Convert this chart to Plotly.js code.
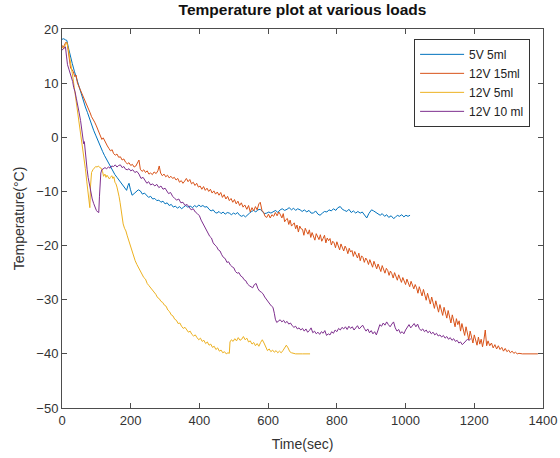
<!DOCTYPE html>
<html>
<head>
<meta charset="utf-8">
<script src="https://cdn.plot.ly/plotly-3.0.1.min.js"></script>
<style>html,body{margin:0;padding:0;background:#fff;}#chart{width:560px;height:458px;}</style>
</head>
<body>
<div id="chart"></div>
<script>
// Series names
const seriesNames = ["5V 5ml", "12V 15ml", "12V 5ml", "12V 10 ml"];

// 5V 5ml
const tBlue = [0,5,10,14,20,24,30,36,43,50,56,62,68,74,80,86,92,98,104,111,118,124,130,136,142,148,154,160,166,172,178,184,188,192,195,199,204,210,216,222,228,234,240,247,252,258,264,270,276,282,288,294,300,306,312,318,324,330,336,342,348,354,360,366,373,380,386,392,398,404,410,416,422,428,434,440,446,451,457,463,469,475,481,487,493,499,505,511,517,523,528,534,540,546,552,558,564,570,577,583,589,596,602,608,616,622,628,635,641,648,655,661,668,674,680,686,693,699,706,712,719,725,732,738,745,751,758,764,771,777,784,790,797,803,810,816,822,829,835,842,848,855,861,868,874,880,887,893,901,907,913,920,926,932,939,945,951,958,965,970,976,982,989,995,1001,1007,1013];
const yBlue = [18.1,18.2,18.0,17.9,16.2,15.0,13.6,12.2,10.7,9.3,8.2,6.8,5.6,4.6,3.4,2.3,1.3,0.4,-0.6,-1.7,-2.6,-3.4,-4.1,-4.9,-5.6,-6.3,-6.9,-7.4,-7.9,-8.4,-8.9,-9.5,-9.8,-8.9,-8.5,-9.6,-10.7,-10.4,-10.0,-9.7,-9.9,-10.5,-10.3,-10.8,-11.1,-10.9,-11.4,-11.3,-11.7,-11.6,-12.0,-11.8,-12.3,-12.1,-12.6,-12.4,-12.9,-12.7,-13.1,-12.8,-13.2,-12.9,-12.6,-12.9,-12.7,-13.0,-12.6,-12.9,-12.5,-12.8,-12.6,-12.9,-12.8,-13.3,-13.6,-13.4,-13.9,-14.0,-13.7,-14.1,-13.8,-14.2,-13.9,-14.0,-14.3,-14.0,-14.2,-13.9,-14.4,-14.6,-14.4,-14.7,-14.3,-14.0,-13.7,-13.5,-13.8,-13.4,-13.3,-13.8,-14.1,-14.0,-13.8,-14.0,-13.7,-13.5,-13.9,-13.4,-13.2,-13.5,-13.3,-13.0,-13.4,-13.1,-13.5,-13.2,-13.4,-13.7,-13.4,-13.8,-13.5,-14.0,-14.0,-13.6,-14.2,-14.4,-14.0,-13.7,-13.8,-13.4,-13.6,-13.2,-13.5,-13.0,-12.8,-13.3,-13.5,-13.7,-13.3,-13.9,-13.6,-14.0,-13.7,-14.0,-13.8,-14.3,-14.9,-14.1,-13.4,-13.6,-13.9,-14.2,-14.4,-14.1,-14.6,-14.3,-14.8,-14.5,-15.0,-14.8,-14.4,-14.6,-14.3,-14.7,-14.4,-14.6,-14.4];

// 12V 15ml
const tOrange = [0,4,8,12,15,19,22,25,29,33,37,41,45,49,53,57,61,65,70,74,78,82,86,90,95,100,104,108,112,116,120,124,128,132,137,141,146,150,155,160,165,170,175,180,185,190,195,200,205,210,215,220,224,228,233,238,243,248,253,258,263,268,274,279,283,287,292,297,302,307,312,317,322,327,332,337,342,347,352,357,362,367,372,377,382,387,392,397,402,407,412,417,422,427,432,437,442,447,452,457,462,467,472,477,482,487,492,497,502,507,512,517,522,527,532,538,543,548,553,558,563,568,573,577,582,587,591,596,601,606,611,616,621,626,631,635,640,644,648,652,656,660,664,668,672,676,680,684,688,692,696,700,704,708,712,716,720,724,728,732,736,740,744,748,752,756,760,764,768,772,776,780,784,788,792,796,800,804,808,812,816,820,824,828,832,836,840,844,848,852,856,860,864,868,872,876,880,884,888,892,896,900,904,908,912,916,920,924,928,932,936,940,944,948,952,956,960,964,968,972,976,980,984,988,992,996,1000,1004,1008,1012,1016,1020,1024,1028,1032,1036,1040,1044,1048,1052,1056,1060,1064,1068,1072,1076,1080,1084,1088,1092,1096,1100,1104,1108,1112,1116,1120,1124,1128,1132,1136,1140,1144,1148,1152,1156,1160,1164,1168,1172,1176,1180,1184,1188,1192,1196,1200,1204,1208,1212,1216,1220,1224,1228,1232,1236,1240,1245,1250,1255,1260,1265,1270,1275,1280,1285,1290,1295,1300,1305,1310,1315,1320,1325,1330,1340,1360,1385];
const yOrange = [17.0,16.6,17.2,17.6,17.4,15.5,14.0,12.8,12.5,12.1,11.2,11.5,10.0,9.4,9.0,8.3,7.8,7.2,6.6,5.9,5.2,4.5,3.8,3.4,2.8,2.1,1.5,0.9,0.2,-0.4,-0.1,-0.6,-1.4,-1.6,-2.1,-2.5,-2.3,-3.0,-3.3,-3.1,-3.7,-3.6,-4.2,-4.0,-4.6,-4.9,-4.7,-5.2,-5.0,-5.5,-5.3,-4.6,-4.2,-5.9,-6.3,-6.0,-6.5,-6.2,-6.8,-6.6,-6.9,-6.4,-6.7,-6.2,-5.3,-6.6,-7.1,-6.8,-7.3,-7.0,-7.5,-7.2,-7.6,-7.4,-7.9,-7.6,-8.3,-8.0,-8.5,-8.1,-7.6,-8.2,-7.8,-8.6,-8.3,-8.9,-8.5,-9.2,-9.0,-9.6,-9.1,-9.8,-9.4,-10.0,-9.6,-10.3,-9.9,-10.5,-10.1,-10.7,-10.2,-11.1,-10.6,-11.4,-10.9,-11.7,-11.3,-12.0,-11.5,-12.3,-11.8,-12.6,-12.1,-12.9,-12.5,-13.3,-12.6,-13.8,-13.0,-13.6,-12.8,-13.4,-12.3,-12.0,-13.5,-13.9,-14.6,-14.8,-14.2,-14.9,-14.3,-14.6,-13.9,-14.5,-13.8,-14.2,-14.9,-14.1,-15.6,-15.2,-15.0,-16.1,-15.3,-16.4,-16.0,-15.8,-16.9,-16.2,-17.5,-16.4,-16.9,-17.0,-18.1,-16.8,-17.4,-17.9,-17.1,-18.5,-17.6,-18.2,-19.0,-17.8,-18.4,-18.9,-18.0,-19.2,-18.7,-18.1,-19.5,-18.6,-19.1,-18.7,-19.9,-19.2,-19.5,-20.4,-19.3,-20.0,-20.8,-19.7,-20.2,-21.0,-20.1,-20.6,-21.5,-20.5,-21.2,-20.9,-22.0,-21.1,-21.7,-22.3,-21.4,-22.8,-21.9,-22.2,-23.1,-22.3,-22.7,-23.5,-22.6,-23.3,-24.0,-22.9,-23.6,-24.3,-23.4,-24.0,-24.8,-23.7,-24.5,-25.1,-24.2,-24.6,-25.5,-24.7,-25.2,-26.0,-25.0,-25.6,-26.4,-25.4,-26.1,-26.8,-25.9,-26.5,-27.2,-26.2,-27.0,-27.6,-26.6,-27.4,-28.0,-27.2,-27.8,-28.8,-27.6,-28.5,-29.3,-28.1,-29.0,-30.1,-28.8,-29.9,-30.8,-29.5,-30.5,-31.6,-30.2,-31.1,-32.3,-30.9,-31.8,-32.9,-31.4,-32.5,-33.4,-32.0,-33.1,-34.3,-32.8,-33.7,-35.0,-33.5,-34.6,-33.9,-35.8,-34.4,-35.3,-36.6,-35.0,-36.0,-37.4,-35.8,-36.7,-38.0,-36.5,-37.6,-38.4,-36.9,-38.2,-37.3,-38.7,-37.4,-35.6,-38.5,-37.6,-38.5,-38.0,-38.9,-38.3,-39.1,-38.5,-39.2,-38.8,-39.5,-39.0,-39.6,-39.3,-39.8,-39.5,-39.9,-39.7,-40.0,-39.9,-40.0,-40.0,-40.0];

// 12V 5ml
const tYellow = [0,5,10,14,18,22,26,30,34,39,44,49,53,58,63,68,72,76,79,81,83,86,90,94,98,102,106,110,114,118,121,125,128,131,135,138,141,145,148,151,154,157,160,163,166,169,172,175,178,182,186,190,194,198,203,208,213,218,223,228,233,238,243,248,253,258,263,268,273,278,283,288,293,298,303,308,313,318,323,328,333,338,343,348,353,358,363,368,373,378,383,388,393,398,403,408,413,418,423,428,433,438,443,448,453,458,463,468,473,478,483,487,489,493,498,503,508,513,518,523,528,533,538,543,548,553,558,563,568,573,578,583,588,593,598,603,608,613,618,623,628,633,638,643,648,653,658,663,668,673,680,700,722];
const yYellow = [16.7,16.3,17.2,17.5,16.4,15.0,13.4,11.8,10.0,7.8,5.5,3.4,1.6,-0.8,-3.3,-5.8,-8.1,-10.4,-12.6,-13.0,-9.0,-6.5,-6.0,-5.7,-5.4,-5.5,-5.3,-5.6,-5.7,-6.3,-7.2,-6.8,-7.4,-7.0,-7.3,-7.7,-7.4,-7.1,-7.6,-7.3,-8.3,-8.6,-9.2,-9.9,-10.9,-12.0,-13.5,-15.0,-16.0,-16.8,-17.3,-18.2,-19.0,-20.0,-21.2,-22.1,-22.8,-23.5,-24.1,-24.6,-25.3,-25.9,-26.2,-27.0,-27.4,-27.8,-28.1,-28.7,-29.0,-29.6,-29.8,-30.3,-30.5,-31.0,-31.2,-31.9,-32.2,-32.8,-33.0,-33.6,-33.8,-34.4,-34.3,-34.9,-35.3,-35.1,-35.6,-36.0,-35.8,-36.4,-36.7,-36.5,-37.0,-37.4,-37.1,-37.7,-37.5,-38.1,-37.8,-38.4,-38.2,-38.8,-38.6,-39.2,-38.9,-39.5,-39.3,-39.8,-39.6,-40.0,-39.8,-39.9,-37.8,-37.4,-37.7,-37.2,-37.6,-37.0,-37.5,-37.3,-36.8,-37.4,-37.1,-37.8,-37.6,-38.2,-37.9,-38.5,-38.1,-38.6,-37.9,-37.4,-38.0,-38.9,-39.4,-39.1,-39.6,-39.3,-39.7,-39.4,-39.8,-39.5,-39.8,-39.4,-39.0,-38.4,-38.9,-39.6,-39.8,-39.9,-40.0,-40.0,-40.0];

// 12V 10 ml
const tPurple = [0,5,10,13,16,20,24,28,31,34,38,42,46,50,54,58,61,63,65,67,70,73,76,79,82,85,88,92,96,100,104,107,109,111,113,116,120,125,130,135,140,145,150,155,160,165,170,175,180,185,190,195,200,206,212,218,224,230,236,242,247,252,258,264,270,276,282,288,294,300,305,310,316,322,328,334,340,346,352,358,364,370,376,382,388,394,400,405,410,415,420,425,430,435,440,445,450,455,460,465,470,475,480,485,490,495,500,505,510,515,520,525,530,535,540,545,550,555,560,565,570,575,580,585,590,595,600,605,610,614,618,621,625,630,635,640,645,650,655,660,665,670,675,680,685,690,695,700,705,710,715,720,725,730,735,740,745,750,755,760,765,770,775,780,785,790,795,800,805,810,815,820,825,830,835,840,845,850,855,860,865,870,875,880,885,890,895,900,905,910,915,920,925,930,935,940,945,950,955,960,965,970,975,980,985,990,995,1000,1005,1010,1015,1020,1025,1030,1035,1040,1045,1050,1055,1060,1065,1070,1075,1080,1085,1090,1095,1100,1105,1110,1115,1120,1125,1130,1135,1140,1145,1150,1155,1160,1165,1170,1175,1180,1185,1190];
const yPurple = [16.1,16.5,16.7,15.0,13.4,12.6,11.8,11.2,10.3,9.2,8.4,7.1,6.0,4.5,3.1,1.5,0.3,-1.2,-0.8,-2.4,-4.2,-5.9,-7.4,-8.6,-9.7,-10.6,-11.4,-12.2,-12.9,-13.5,-13.8,-13.9,-11.0,-7.9,-6.6,-6.0,-5.8,-5.6,-5.8,-5.5,-5.7,-5.3,-5.4,-5.1,-5.5,-5.2,-5.1,-5.6,-5.4,-5.9,-6.0,-5.8,-6.2,-6.0,-6.5,-6.3,-6.8,-7.6,-7.4,-8.1,-8.5,-8.2,-8.8,-8.6,-9.0,-8.7,-9.3,-9.0,-9.6,-9.4,-9.9,-10.4,-10.2,-10.9,-11.3,-11.6,-11.4,-12.1,-12.0,-12.6,-12.4,-13.0,-13.4,-13.2,-13.8,-14.1,-14.5,-15.3,-15.9,-16.4,-17.0,-17.6,-18.3,-18.6,-19.5,-19.9,-20.2,-20.8,-21.0,-21.7,-22.2,-22.4,-23.1,-23.0,-23.6,-23.9,-24.1,-24.8,-25.1,-25.0,-25.6,-25.8,-26.3,-26.5,-27.1,-27.4,-27.6,-27.8,-27.2,-27.0,-27.9,-28.4,-28.6,-28.9,-29.5,-30.0,-30.3,-30.8,-31.2,-31.4,-32.5,-33.6,-34.2,-33.9,-33.7,-34.1,-33.8,-34.3,-34.0,-34.5,-34.3,-34.8,-35.1,-34.9,-35.4,-35.2,-35.6,-35.3,-35.8,-35.4,-36.0,-35.7,-35.2,-36.1,-35.8,-36.3,-36.0,-36.4,-35.9,-36.2,-35.7,-36.6,-36.3,-36.5,-35.9,-36.2,-35.6,-35.9,-35.3,-35.6,-35.1,-35.4,-35.0,-35.5,-34.9,-35.3,-35.0,-35.6,-35.2,-34.8,-35.4,-35.0,-34.7,-35.3,-35.8,-35.4,-36.1,-35.7,-36.3,-35.9,-36.5,-35.6,-34.6,-34.9,-34.3,-34.7,-34.1,-34.6,-35.0,-34.5,-34.1,-35.2,-35.8,-35.5,-36.2,-35.9,-36.3,-35.6,-35.1,-34.6,-35.2,-34.8,-34.4,-35.0,-34.5,-35.3,-35.7,-35.4,-35.9,-35.6,-36.1,-35.8,-36.3,-36.0,-36.5,-36.2,-36.7,-36.5,-36.9,-36.6,-37.1,-36.8,-37.3,-37.0,-37.5,-37.2,-37.7,-37.5,-38.0,-37.8,-38.3,-38.0,-37.6,-37.3,-37.5,-37.2];

// Axis ticks
const xTicks = [0,200,400,600,800,1000,1200,1400];
const yTicks = [-50,-40,-30,-20,-10,0,10,20];

const colors = ["#0072BD", "#D95319", "#EDB120", "#7E2F8E"];
const xs = [tBlue, tOrange, tYellow, tPurple];
const ys = [yBlue, yOrange, yYellow, yPurple];

const traces = seriesNames.map((n, i) => ({
  x: xs[i], y: ys[i], name: n, type: 'scatter', mode: 'lines',
  line: {color: colors[i], width: 1}
}));

const FONT = 'Liberation Sans, Arial, sans-serif';
const axisCommon = {
  showline: true, linecolor: '#4d4d4d', linewidth: 1, mirror: 'ticks',
  ticks: 'inside', ticklen: 5, tickcolor: '#4d4d4d', showgrid: false, zeroline: false,
  tickfont: {family: FONT, size: 13, color: '#333'}
};

const layout = {
  width: 560, height: 458,
  margin: {l: 62, r: 17, t: 29, b: 50},
  paper_bgcolor: '#fff', plot_bgcolor: '#fff',
  title: {text: '<b>Temperature plot at various loads</b>', xref: 'paper', x: 0.5, xanchor: 'center',
    yref: 'container', y: 0.992, yanchor: 'top',
    font: {family: FONT, size: 15.5, color: '#111'}},
  xaxis: Object.assign({}, axisCommon, {range: [0, 1400], tickvals: xTicks,
    title: {text: 'Time(sec)', standoff: 12, font: {family: FONT, size: 14, color: '#333'}}}),
  yaxis: Object.assign({}, axisCommon, {range: [-50, 20], tickvals: yTicks,
    title: {text: 'Temperature(°C)', standoff: 8, font: {family: FONT, size: 14, color: '#333'}}}),
  showlegend: true,
  legend: {x: 0.732, y: 0.974, xanchor: 'left', yanchor: 'top', bgcolor: '#fff',
    bordercolor: '#333', borderwidth: 1, itemwidth: 44, tracegroupgap: 0,
    font: {family: FONT, size: 12, color: '#222'}}
};

Plotly.newPlot('chart', traces, layout, {displayModeBar: false, staticPlot: true});
</script>
</body>
</html>
